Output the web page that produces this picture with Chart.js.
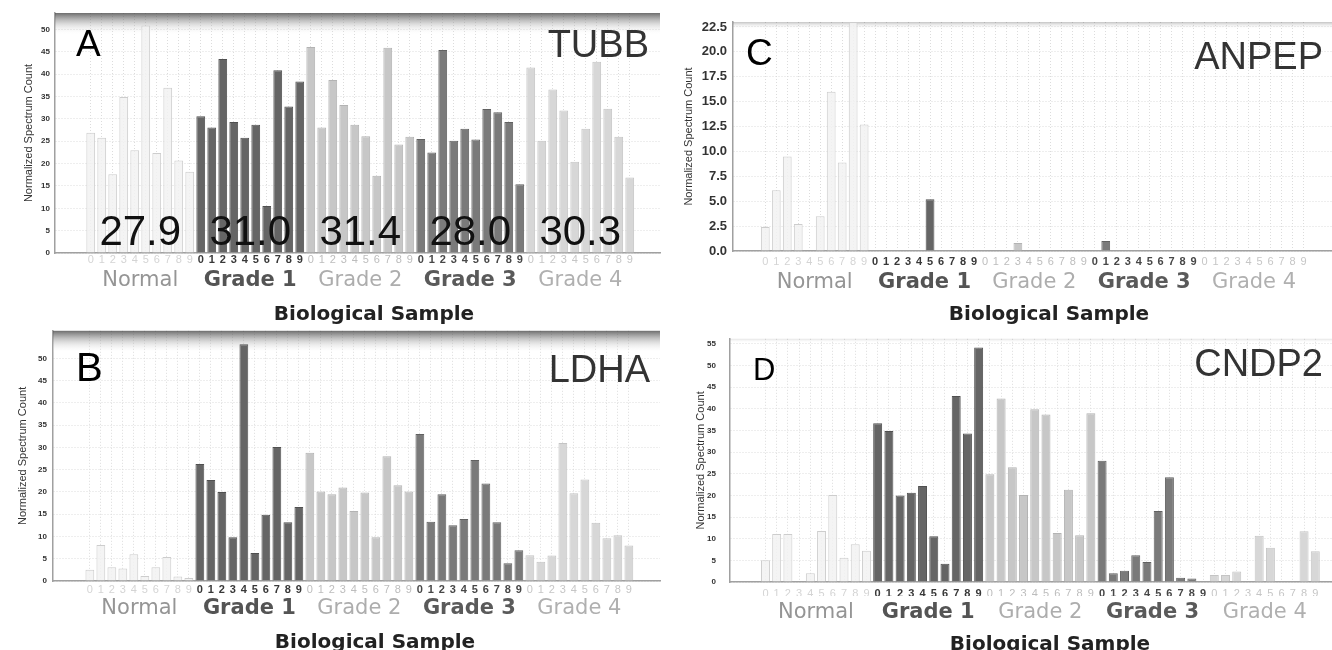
<!DOCTYPE html>
<html>
<head>
<meta charset="utf-8">
<title>Normalized spectrum counts by grade</title>
<script src="https://cdn.jsdelivr.net/npm/chart.js@4.4.1/dist/chart.umd.min.js"></script>
<style>
  html, body { margin: 0; padding: 0; background: #fff; }
  #fig { position: relative; width: 1332px; height: 650px; overflow: hidden; }
  .panel { position: absolute; }
</style>
</head>
<body>
<div id="fig">
  <div class="panel" style="left:0;top:0;width:665px;height:330px"><canvas id="chartA"></canvas></div>
  <div class="panel" style="left:0;top:320px;width:665px;height:330px"><canvas id="chartB"></canvas></div>
  <div class="panel" style="left:665px;top:0;width:667px;height:330px"><canvas id="chartC"></canvas></div>
  <div class="panel" style="left:665px;top:320px;width:667px;height:330px"><canvas id="chartD"></canvas></div>
</div>
<script>
// ---- data ----
const GROUPS = ["Normal", "Grade 1", "Grade 2", "Grade 3", "Grade 4"];
const SAMPLE_DIGITS = ["0", "1", "2", "3", "4", "5", "6", "7", "8", "9"];
const Y_TITLE = "Normalized Spectrum Count";
const X_TITLE = "Biological Sample";

const TUBB = [
  26.9, 25.8, 17.6, 34.9, 23.0, 50.9, 22.4, 37.0, 20.7, 18.2,
  30.6, 28.1, 43.4, 29.3, 25.8, 28.7, 10.5, 40.9, 32.8, 38.4,
  46.1, 28.1, 38.7, 33.1, 28.7, 26.1, 17.3, 45.9, 24.3, 26.0,
  25.5, 22.5, 45.4, 25.1, 27.8, 25.4, 32.2, 31.5, 29.3, 15.4,
  41.5, 25.1, 36.6, 31.9, 20.4, 27.8, 42.8, 32.3, 26.0, 16.9
];
const TUBB_MEANS = [27.9, 31.0, 31.4, 28.0, 30.3];

const LDHA = [
  2.5, 8.1, 3.1, 2.8, 6.0, 1.1, 3.1, 5.4, 1.0, 0.7,
  26.3, 22.7, 20.0, 9.8, 53.2, 6.3, 14.9, 30.1, 13.2, 16.6,
  28.8, 20.1, 19.5, 21.0, 15.7, 19.9, 9.8, 28.0, 21.5, 20.1,
  33.0, 13.3, 19.5, 12.5, 13.9, 27.2, 21.9, 13.2, 4.0, 6.9,
  5.8, 4.3, 5.7, 31.0, 19.7, 22.8, 13.1, 9.6, 10.3, 8.0
];

const ANPEP = [
  2.4, 6.1, 9.5, 2.7, 0, 3.5, 16.0, 8.9, 23.0, 12.7,
  0, 0, 0, 0, 0, 5.2, 0, 0, 0, 0,
  0, 0, 0, 0.8, 0, 0, 0, 0, 0, 0,
  0, 1.0, 0, 0, 0, 0, 0, 0, 0, 0,
  0, 0, 0, 0, 0, 0, 0, 0, 0, 0
];

const CNDP2 = [
  5.0, 11.1, 11.1, 0, 2.0, 11.8, 20.1, 5.6, 8.7, 7.2,
  36.7, 34.9, 20.0, 20.6, 22.2, 10.6, 4.2, 43.0, 34.3, 54.2,
  24.9, 42.4, 26.5, 20.1, 39.9, 38.7, 11.3, 21.3, 10.8, 39.0,
  28.0, 2.0, 2.6, 6.2, 4.6, 16.4, 24.2, 1.0, 0.8, 0,
  1.6, 1.6, 2.4, 0, 10.7, 7.9, 0, 0, 11.7, 7.1
];

// ---- styling ----
const SANS = '"Liberation Sans", Arial, sans-serif';
const WIDE = '"DejaVu Sans", Verdana, sans-serif';
const NARROW = '"Liberation Sans Narrow", "Liberation Sans", Arial, sans-serif';

const BAR_FILL = ["rgba(242,242,242,0.85)", "#656565", "#c7c7c7", "#7a7a7a", "#d7d7d7"];
const BAR_EDGE = ["#cdcdcd", "#505050", "#b3b3b3", "#616161", "#c4c4c4"];
const DIGIT_COLOR = ["#d4d4d4", "#383838", "#bdbdbd", "#474747", "#c6c6c6"];
const GROUP_COLOR = ["#959595", "#545454", "#adadad", "#5a5a5a", "#b0b0b0"];
const GROUP_BOLD = [false, true, false, true, false];

const grp = (i) => Math.floor(i / 10);

// gradient header, panel letter + gene name, group means, x caption
const decor = {
  id: "decor",
  beforeDatasetsDraw(chart, args, o) {
    const { ctx, chartArea: a } = chart;
    if (!o.header) return;
    ctx.save();
    const g = ctx.createLinearGradient(0, a.top, 0, a.top + o.header.h);
    g.addColorStop(0, `rgba(60,60,60,${o.header.alpha})`);
    g.addColorStop(0.35, `rgba(120,120,120,${o.header.alpha * 0.6})`);
    g.addColorStop(1, "rgba(255,255,255,0)");
    ctx.fillStyle = g;
    ctx.fillRect(a.left, a.top, a.right - a.left, o.header.h);
    ctx.restore();
  },
  afterDraw(chart, args, o) {
    const { ctx, chartArea: a } = chart;
    const xs = chart.scales.x;
    ctx.save();
    ctx.textBaseline = "alphabetic";
    ctx.fillStyle = "#000";
    ctx.font = `${o.letter.size}px ${SANS}`;
    ctx.textAlign = "left";
    ctx.fillText(o.letter.text, a.left + o.letter.dx, a.top + o.letter.base);
    ctx.fillStyle = "#333";
    ctx.font = `38px ${SANS}`;
    ctx.textAlign = "right";
    ctx.fillText(o.gene.text, a.right - o.gene.dr, a.top + o.gene.base);
    if (o.means) {
      ctx.fillStyle = "#111";
      ctx.font = `42px ${SANS}`;
      ctx.textAlign = "center";
      o.means.forEach((m, g) => {
        ctx.fillText(m.toFixed(1), xs.getPixelForValue(g * 10 + 4.5), a.bottom - 8);
      });
    }
    ctx.fillStyle = "#222";
    ctx.font = `bold 20px ${WIDE}`;
    ctx.textAlign = "center";
    ctx.fillText(X_TITLE, a.left + o.caption.dx, a.bottom + o.caption.base);
    ctx.restore();
  },
};

function makePanel(cfg) {
  const sampleTicks = cfg.values.map((v, i) => ({ value: i }));
  const groupTicks = GROUPS.map((g, i) => ({ value: i * 10 + 4.5 }));
  const yTicks = [];
  for (let k = 0; k * cfg.step <= cfg.tickMax + 1e-9; k++) yTicks.push({ value: k * cfg.step });
  return new Chart(document.getElementById(cfg.id), {
    type: "bar",
    data: {
      datasets: [
        {
          data: cfg.values.map((v, i) => ({ x: i, y: v })),
          xAxisID: "x",
          yAxisID: "y",
          backgroundColor: (c) => BAR_FILL[grp(c.dataIndex)],
          borderColor: (c) => BAR_EDGE[grp(c.dataIndex)],
          borderWidth: 1,
          barPercentage: 0.8,
          categoryPercentage: 1,
        },
      ],
    },
    options: {
      responsive: true,
      maintainAspectRatio: false,
      animation: false,
      layout: { padding: cfg.pad },
      plugins: {
        legend: { display: false },
        tooltip: { enabled: false },
        decor: {
          header: cfg.header,
          letter: cfg.letter,
          gene: cfg.gene,
          means: cfg.means,
          caption: cfg.caption,
        },
      },
      scales: {
        x: {
          type: "linear",
          axis: "x",
          position: "bottom",
          weight: 0,
          offset: false,
          bounds: "data",
          min: cfg.xMin,
          max: cfg.xMax,
          afterBuildTicks: (s) => { s.ticks = sampleTicks.slice(); },
          afterFit: (s) => { s.height = cfg.digitsH; },
          grid: { color: "#dcdcdc", drawTicks: false, offset: false },
          border: { color: "#a0a0a0", width: 1.5, dash: [1, 2] },
          ticks: {
            autoSkip: false,
            maxRotation: 0,
            minRotation: 0,
            padding: cfg.digitPad,
            callback: (v) => SAMPLE_DIGITS[v % 10],
            color: (c) => DIGIT_COLOR[grp(c.index)],
            font: (c) => ({ family: SANS, size: 11, weight: GROUP_BOLD[grp(c.index)] ? "bold" : "normal" }),
          },
        },
        x2: {
          type: "linear",
          axis: "x",
          position: "bottom",
          weight: 1,
          offset: false,
          bounds: "data",
          min: cfg.xMin,
          max: cfg.xMax,
          afterBuildTicks: (s) => { s.ticks = groupTicks.slice(); },
          afterFit: (s) => { s.height = cfg.groupsH; },
          grid: { display: false, drawTicks: false, offset: false },
          border: { display: false },
          ticks: {
            autoSkip: false,
            maxRotation: 0,
            minRotation: 0,
            padding: cfg.groupPad,
            callback: (v, i) => GROUPS[i],
            color: (c) => GROUP_COLOR[c.index],
            font: (c) => ({ family: WIDE, size: 21, weight: GROUP_BOLD[c.index] ? "bold" : "normal" }),
          },
        },
        y: {
          min: 0,
          max: cfg.yMax,
          afterBuildTicks: (s) => { s.ticks = yTicks.slice(); },
          afterFit: (s) => { s.width = cfg.yWidth; },
          grid: { color: "#dcdcdc", drawTicks: false },
          border: { color: "#a0a0a0", width: 1.5, dash: [1, 2] },
          ticks: {
            padding: cfg.yTickPad,
            color: "#333",
            font: cfg.yTickFont,
            callback: (v) => (cfg.step < 5 ? v.toFixed(1) : v),
          },
          title: {
            display: true,
            text: Y_TITLE,
            color: "#333",
            font: { family: SANS, size: 11 },
            padding: { top: cfg.yTitlePad, bottom: 0 },
          },
        },
      },
    },
    plugins: [decor],
  });
}

const SMALL_TICKS = { family: SANS, size: 8, weight: "bold" };

// ---- A: TUBB ----
makePanel({
  id: "chartA", values: TUBB, means: TUBB_MEANS,
  pad: { left: 0, top: 13, right: 5, bottom: 0 },
  xMin: -3.25, xMax: 51.75, yMax: 53.7, step: 5, tickMax: 50,
  yWidth: 55, yTickPad: 5, yTickFont: SMALL_TICKS, yTitlePad: 22,
  digitsH: 14, groupsH: 63, digitPad: 0.5, groupPad: 1,
  header: { h: 22, alpha: 0.75 },
  letter: { text: "A", size: 37, dx: 21, base: 43 },
  gene: { text: "TUBB", dr: 11, base: 44 },
  caption: { dx: 319, base: 67 },
});

// ---- B: LDHA ----
makePanel({
  id: "chartB", values: LDHA,
  pad: { left: 0, top: 10, right: 5, bottom: 0 },
  xMin: -3.35, xMax: 51.83, yMax: 56.2, step: 5, tickMax: 50,
  yWidth: 53, yTickPad: 6, yTickFont: SMALL_TICKS, yTitlePad: 16,
  digitsH: 14, groupsH: 55, digitPad: 2.7, groupPad: 1.4,
  header: { h: 22, alpha: 0.75 },
  letter: { text: "B", size: 40, dx: 23, base: 50 },
  gene: { text: "LDHA", dr: 10, base: 51.5 },
  caption: { dx: 322, base: 67 },
});

// ---- C: ANPEP ----
makePanel({
  id: "chartC", values: ANPEP,
  pad: { left: 0, top: 22, right: 0, bottom: 0 },
  xMin: -2.94, xMax: 51.6, yMax: 23, step: 2.5, tickMax: 22.5,
  yWidth: 68, yTickPad: 6, yTickFont: { family: NARROW, size: 13, weight: "bold" }, yTitlePad: 17.4,
  digitsH: 14, groupsH: 65, digitPad: 4.1, groupPad: 4.9,
  header: { h: 7, alpha: 0.3 },
  letter: { text: "C", size: 37, dx: 13, base: 43 },
  gene: { text: "ANPEP", dr: 9, base: 47 },
  caption: { dx: 316, base: 69 },
});

// ---- D: CNDP2 ----
makePanel({
  id: "chartD", values: CNDP2,
  pad: { left: 0, top: 10, right: 0, bottom: 0 },
  xMin: -3.16, xMax: 50.49, yMax: 56.2, step: 5, tickMax: 55,
  yWidth: 65, yTickPad: 14, yTickFont: SMALL_TICKS, yTitlePad: 29.4,
  digitsH: 14, groupsH: 54, digitPad: 5.1, groupPad: 3.9,
  header: { h: 4, alpha: 0.15 },
  letter: { text: "D", size: 31, dx: 23, base: 41 },
  gene: { text: "CNDP2", dr: 9, base: 36.7 },
  caption: { dx: 320, base: 68 },
});
</script>
</body>
</html>
